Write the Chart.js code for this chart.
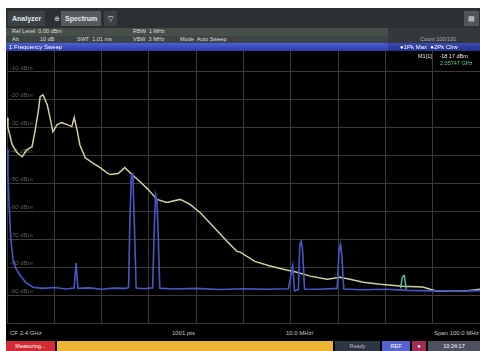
<!DOCTYPE html>
<html>
<head>
<meta charset="utf-8">
<script src="https://cdn.jsdelivr.net/npm/chart.js@4/dist/chart.umd.min.js"></script>
<style>
  html, body { margin: 0; padding: 0; background: #fff; width: 480px; height: 351px; overflow: hidden; }
  body { font-family: "Liberation Sans", "DejaVu Sans", sans-serif; position: relative; }
  .abs { position: absolute; }
  #frame { left: 6px; top: 8px; width: 474px; height: 343px; background: #000; }
  #titlebar { left: 6px; top: 8px; width: 474px; height: 20px; background: #2c3032; }
  .tab { top: 11px; height: 15px; line-height: 15px; font-size: 7px; font-weight: bold; color: #e8e8e8; padding: 0 4px; }
  #row1 { left: 6px; top: 28px; width: 474px; height: 8px; background: #46504a; }
  #row2 { left: 6px; top: 36px; width: 474px; height: 7px; background: #3e4446; }
  #rowright { left: 388px; top: 28px; width: 92px; height: 15px; background: #33383a; }
  .set { font-size: 5.5px; line-height: 7px; color: #d8dcd8; white-space: nowrap; }
  #bluebar { left: 6px; top: 43px; width: 474px; height: 8px; background: linear-gradient(#4a60d8, #2c3ca8); }
  #bluebar2 { left: 388px; top: 43px; width: 92px; height: 8px; background: linear-gradient(#3c4cb8, #24308a); }
  .bb { font-size: 6px; line-height: 8px; color: #fff; white-space: nowrap; }
  .mk { font-size: 5.5px; line-height: 6px; white-space: nowrap; }
  #chartbox { left: 6px; top: 42px; width: 474px; height: 283px; }
  .xl { top: 330px; font-size: 6px; line-height: 7px; color: #c8c8c8; white-space: nowrap; }
  .sb { top: 341px; height: 10px; font-size: 5.5px; line-height: 10px; color: #fff; white-space: nowrap; overflow: hidden; text-align: center; }
</style>
</head>
<body>
<div class="abs" id="frame"></div>
<div class="abs" id="titlebar"></div>
<div class="abs tab" style="left:8px;background:#3c4244;">Analyzer</div>
<div class="abs tab" style="left:50px;top:11px;color:#ddd;font-weight:normal;">&#8853;</div>
<div class="abs tab" style="left:61px;background:#565c5e;">Spectrum</div>
<div class="abs tab" style="left:104px;background:#3c4244;font-weight:normal;">&#9661;</div>
<div class="abs tab" style="left:464px;background:#50565a;font-weight:normal;">&#9636;</div>

<div class="abs" id="row1"></div>
<div class="abs" id="row2"></div>
<div class="abs" id="rowright"></div>
<div class="abs set" style="left:12px;top:28px;">Ref Level &nbsp;0.00 dBm</div>
<div class="abs set" style="left:133px;top:28px;">RBW &nbsp;1 MHz</div>
<div class="abs set" style="left:12px;top:36px;">Att</div>
<div class="abs set" style="left:40px;top:36px;">10 dB</div>
<div class="abs set" style="left:77px;top:36px;">SWT &nbsp;1.01 ms</div>
<div class="abs set" style="left:133px;top:36px;">VBW &nbsp;3 MHz</div>
<div class="abs set" style="left:180px;top:36px;">Mode &nbsp;Auto Sweep</div>
<div class="abs set" style="left:420px;top:36px;color:#aab;">Count 100/100</div>

<div class="abs" id="chartbox"><canvas id="spec" width="474" height="283"></canvas></div>

<div class="abs" id="bluebar"></div>
<div class="abs" id="bluebar2"></div>
<div class="abs bb" style="left:9px;top:43px;">1 Frequency Sweep</div>
<div class="abs bb" style="left:400px;top:43px;">&#9679;1Pk Max &nbsp;&#9679;2Pk Clrw</div>

<div class="abs mk" style="left:418px;top:53px;color:#e8e8e8;">M1[1] &nbsp; &nbsp; -18.17 dBm</div>
<div class="abs mk" style="left:440px;top:60px;color:#5ad08a;">2.35747 GHz</div>

<div class="abs xl" style="left:10px;">CF 2.4 GHz</div>
<div class="abs xl" style="left:172px;">1001 pts</div>
<div class="abs xl" style="left:286px;">10.0 MHz/</div>
<div class="abs xl" style="left:434px;">Span 100.0 MHz</div>

<div class="abs sb" style="left:6px;width:49px;background:#d42a34;">Measuring...</div>
<div class="abs sb" style="left:57px;width:276px;background:#f0b434;color:#f0b434;">.</div>
<div class="abs sb" style="left:335px;width:45px;background:#2e3644;color:#bbb;">Ready</div>
<div class="abs sb" style="left:382px;width:28px;background:#5464cc;">REF</div>
<div class="abs sb" style="left:412px;width:14px;background:#a02c54;">&#9679;</div>
<div class="abs sb" style="left:428px;width:52px;background:#4c5060;">10:24:17</div>

<script>
// Trace 1: max hold (frequency in MHz, level in dBm)
const maxHoldFreq = [
  2350.0, 2350.2, 2351.1, 2352.1, 2353.2, 2354.2, 2355.3, 2355.9, 2356.6, 2357.0,
  2357.6, 2358.5, 2359.1, 2359.7, 2360.6, 2361.6, 2362.7, 2363.7, 2364.2, 2364.8,
  2365.4, 2366.5, 2368.0, 2369.7, 2371.1, 2371.8, 2373.5, 2374.9, 2376.4, 2378.1,
  2379.8, 2381.7, 2383.8, 2386.6, 2388.7, 2390.8, 2393.6, 2396.5, 2398.6, 2399.3,
  2402.4, 2405.6, 2408.4, 2411.3, 2414.1, 2417.7, 2420.4, 2422.5, 2425.3, 2428.9,
  2433.7, 2437.9, 2440.9, 2446.4, 2450.0
];
const maxHoldLevel = [
  -26.4, -30.0, -36.1, -38.9, -40.4, -37.9, -36.8, -31.4, -24.3, -18.9,
  -18.2, -21.8, -26.4, -31.4, -28.9, -28.2, -28.9, -29.6, -26.4, -30.7,
  -36.1, -40.7, -42.5, -44.3, -46.1, -46.8, -46.4, -44.3, -46.8, -49.3,
  -52.1, -55.7, -56.8, -55.7, -57.5, -60.4, -65.4, -70.7, -74.3, -74.6,
  -77.9, -79.6, -80.7, -81.8, -83.2, -84.3, -83.6, -84.3, -85.4, -86.1,
  -86.8, -87.1, -88.6, -88.6, -87.9
];

// Trace 2: clear write
const clrwFreq = [
  2350.0, 2350.2, 2350.4, 2350.8, 2351.3, 2351.9, 2352.8, 2354.0, 2355.5, 2357.5,
  2360.0, 2362.5, 2364.2, 2364.6, 2365.0, 2367.5, 2370.0, 2372.5, 2375.0, 2375.7,
  2376.0, 2376.3, 2376.6, 2376.9, 2377.3, 2379.0, 2380.8, 2381.1, 2381.4, 2381.7,
  2382.0, 2382.3, 2385.0, 2390.0, 2395.0, 2400.0, 2405.0, 2409.5, 2410.4, 2410.8,
  2411.6, 2411.9, 2412.2, 2412.5, 2412.9, 2416.0, 2419.8, 2420.2, 2420.5, 2420.8,
  2421.2, 2425.0, 2430.0, 2435.0, 2440.0, 2445.0, 2450.0
];
const clrwLevel = [
  -37.5, -47.0, -56.0, -70.0, -77.5, -80.5, -83.0, -85.5, -87.2, -87.6,
  -87.3, -87.8, -87.5, -78.5, -87.6, -87.4, -87.9, -87.5, -87.6, -87.3,
  -62.0, -47.0, -46.5, -63.0, -87.5, -87.7, -87.4, -68.0, -54.0, -56.0,
  -70.0, -87.5, -87.8, -87.6, -88.0, -87.7, -87.9, -87.7, -79.5, -88.5,
  -88.0, -72.0, -70.7, -74.0, -87.8, -87.9, -87.6, -74.0, -71.8, -76.0,
  -87.8, -88.1, -87.9, -88.3, -88.5, -88.6, -88.4
];

// Trace 3: short burst near 2.434 GHz
const trace3Freq = [2433.2, 2433.6, 2434.0, 2434.4];
const trace3Level = [-87.6, -83.5, -83.0, -87.8];

// Axis settings
const freqStart = 2350, freqStop = 2450, freqStep = 10;
const refLevel = 0, bottomLevel = -100, levelStep = 10;

const pts = (xs, ys) => xs.map((x, i) => ({ x: x, y: ys[i] }));

// keep the diagram filling the canvas: no label padding around the grid
const noPad = scale => {
  scale.paddingTop = 0; scale.paddingBottom = 0;
  scale.paddingLeft = 0; scale.paddingRight = 0;
  if (scale.isHorizontal()) scale.height = 0; else scale.width = 0;
};

new Chart(document.getElementById('spec'), {
  type: 'line',
  data: {
    datasets: [
      { label: '2Pk Clrw', data: pts(clrwFreq, clrwLevel), borderColor: '#4658c8', borderWidth: 1.6 },
      { label: '3', data: pts(trace3Freq, trace3Level), borderColor: '#58c898', borderWidth: 1.4 },
      { label: '1Pk Max', data: pts(maxHoldFreq, maxHoldLevel), borderColor: '#d2cf9c', borderWidth: 1.5 }
    ]
  },
  options: {
    responsive: false,
    animation: false,
    devicePixelRatio: 1,
    layout: { padding: { left: 1, right: 0, top: 2, bottom: 2 } },
    elements: { point: { radius: 0 }, line: { tension: 0 } },
    plugins: { legend: { display: false }, tooltip: { enabled: false } },
    scales: {
      x: {
        type: 'linear', min: freqStart, max: freqStop,
        ticks: { display: false, stepSize: freqStep },
        grid: { color: '#3a3a3a', lineWidth: 1, drawTicks: false },
        border: { display: false },
        afterFit: noPad
      },
      y: {
        type: 'linear', min: bottomLevel, max: refLevel,
        ticks: {
          stepSize: levelStep, mirror: true, padding: 3, labelOffset: -4,
          color: '#56665a', font: { size: 6, family: 'Liberation Sans' },
          callback: v => (v === bottomLevel || v === refLevel) ? '' : v + ' dBm'
        },
        grid: { color: '#3a3a3a', lineWidth: 1, drawTicks: false },
        border: { display: false },
        afterFit: noPad
      }
    }
  }
});
</script>
</body>
</html>
